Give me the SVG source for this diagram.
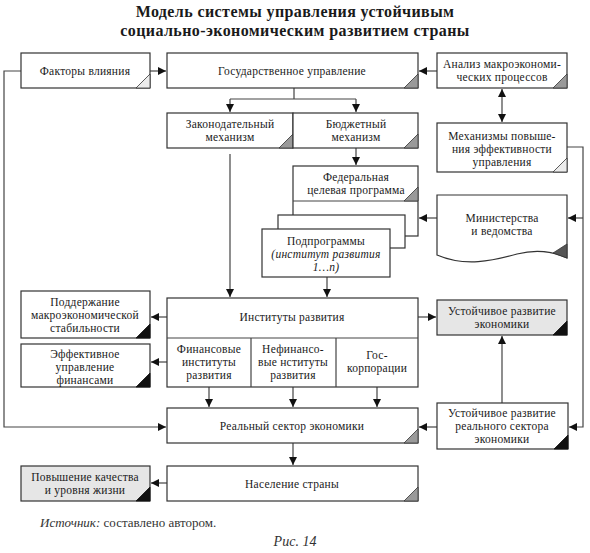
<svg xmlns="http://www.w3.org/2000/svg" width="590" height="553" viewBox="0 0 590 553">
<defs>
<style>
.bx{fill:#fff;stroke:#333;stroke-width:1.2}
.bg{fill:#e6e6e6;stroke:#333;stroke-width:1.2}
.ln{fill:none;stroke:#444;stroke-width:1.2}
.t{font-family:"Liberation Serif","DejaVu Serif",serif;font-size:11.5px;letter-spacing:0.25px;fill:#1a1a1a;text-anchor:middle}
.ti{font-style:italic}
.h{font-family:"Liberation Serif","DejaVu Serif",serif;font-size:16px;font-weight:bold;fill:#1a1a1a;text-anchor:middle;letter-spacing:0.4px}
.tl{fill:#ececec;stroke:#333;stroke-width:0.8}
.tg{fill:#9a9a9a;stroke:#333;stroke-width:0.8}
.td{fill:#555;stroke:#333;stroke-width:0.8}
.tb{fill:#111;stroke:#111;stroke-width:0.8}
</style>
<marker id="ar" markerUnits="userSpaceOnUse" markerWidth="9" markerHeight="9" refX="8" refY="4" orient="auto-start-reverse">
<path d="M0,0 L8,4 L0,8 Z" fill="#111"/>
</marker>
</defs>
<rect width="590" height="553" fill="#fff"/>
<g id="title">
<text class="h" x="295" y="17">Модель системы управления устойчивым</text>
<text class="h" x="295" y="36">социально-экономическим развитием страны</text>
</g>
<g id="connectors">
<path class="ln" d="M150,71 H166" marker-end="url(#ar)"/>
<path class="ln" d="M21,71 H4 V427 H166" marker-end="url(#ar)"/>
<path class="ln" d="M437,71 H419" marker-end="url(#ar)"/>
<path class="ln" d="M294,88 V99 M230,99 H356"/>
<path class="ln" d="M230,99 V112" marker-end="url(#ar)"/>
<path class="ln" d="M356,99 V112" marker-end="url(#ar)"/>
<path class="ln" d="M502,89 V122" marker-start="url(#ar)" marker-end="url(#ar)"/>
<path class="ln" d="M230,154 V297" marker-end="url(#ar)"/>
<path class="ln" d="M356,148 V165" marker-end="url(#ar)"/>
<path class="ln" d="M567,147 H583 V427 H569" marker-end="url(#ar)"/>
<path class="ln" d="M583,218 H568" marker-end="url(#ar)"/>
<path class="ln" d="M437,218 H419" marker-end="url(#ar)"/>
<path class="ln" d="M327,277 V297" marker-end="url(#ar)"/>
<path class="ln" d="M167,317 H151" marker-end="url(#ar)"/>
<path class="ln" d="M167,362 H151" marker-end="url(#ar)"/>
<path class="ln" d="M418,317 H436" marker-end="url(#ar)"/>
<path class="ln" d="M209,387 V407" marker-end="url(#ar)"/>
<path class="ln" d="M293,387 V407" marker-end="url(#ar)"/>
<path class="ln" d="M377,387 V407" marker-end="url(#ar)"/>
<path class="ln" d="M437,427 H419" marker-end="url(#ar)"/>
<path class="ln" d="M502,403 V336" marker-end="url(#ar)"/>
<path class="ln" d="M293,443 V465" marker-end="url(#ar)"/>
<path class="ln" d="M167,483 H151" marker-end="url(#ar)"/>
</g>
<g id="factors">
<rect class="bx" x="21" y="53" width="129" height="35"/>
<polygon class="tl" points="150,74 150,88 136,88"/>
<text class="t" x="85" y="75">Факторы влияния</text>
</g>
<g id="gos">
<rect class="bx" x="167" y="53" width="251" height="35"/>
<polygon class="tg" points="418,74 418,88 404,88"/>
<text class="t" x="292" y="75">Государственное управление</text>
</g>
<g id="analysis">
<rect class="bx" x="437" y="53" width="130" height="35"/>
<polygon class="tg" points="567,74 567,88 553,88"/>
<text class="t" x="502" y="68">Анализ макроэкономи-</text>
<text class="t" x="502" y="81">ческих процессов</text>
</g>
<g id="zakon">
<rect class="bx" x="167" y="113" width="126" height="35"/>
<polygon class="tg" points="293,134 293,148 279,148"/>
<text class="t" x="230" y="127.5">Законодательный</text>
<text class="t" x="230" y="141">механизм</text>
</g>
<g id="budget">
<rect class="bx" x="293" y="113" width="125" height="35"/>
<polygon class="tg" points="418,134 418,148 404,148"/>
<text class="t" x="356" y="127.5">Бюджетный</text>
<text class="t" x="356" y="141">механизм</text>
</g>
<g id="mech">
<rect class="bx" x="437" y="123" width="130" height="49"/>
<polygon class="tl" points="567,158 567,172 553,172"/>
<text class="t" x="502" y="140">Механизмы повыше-</text>
<text class="t" x="502" y="153">ния эффективности</text>
<text class="t" x="502" y="166">управления</text>
</g>
<g id="federal">
<rect class="bx" x="293" y="166" width="125" height="70"/>
<line class="ln" x1="293" y1="201" x2="418" y2="201"/>
<polygon class="tg" points="418,187 418,201 404,201"/>
<text class="t" x="356" y="180.5">Федеральная</text>
<text class="t" x="356" y="194">целевая программа</text>
<rect class="bx" x="278" y="215" width="127" height="33"/>
</g>
<g id="subprograms">
<rect class="bx" x="262" y="229" width="128" height="48"/>
<text class="t" x="326" y="245">Подпрограммы</text>
<text class="t ti" x="326" y="258">(институт развития</text>
<text class="t ti" x="326" y="271">1…n)</text>
</g>
<g id="ministries">
<path class="bx" d="M437,195 H567 V258 C552,251 537,249 517,254 C492,261 465,267 437,255 Z"/>
<polygon class="td" points="567,244 567,258 553,253"/>
<text class="t" x="502" y="222">Министерства</text>
<text class="t" x="502" y="235">и  ведомства</text>
</g>
<g id="podderzhanie">
<rect class="bx" x="21" y="291" width="129" height="47"/>
<polygon class="tb" points="150,324 150,338 136,338"/>
<text class="t" x="85" y="306">Поддержание</text>
<text class="t" x="85" y="319">макроэкономической</text>
<text class="t" x="85" y="332">стабильности</text>
</g>
<g id="effektivnoe">
<rect class="bx" x="21" y="344" width="129" height="43"/>
<polygon class="tb" points="150,373 150,387 136,387"/>
<text class="t" x="85" y="357.5">Эффективное</text>
<text class="t" x="85" y="370.5">управление</text>
<text class="t" x="85" y="383.5">финансами</text>
</g>
<g id="institutes">
<rect class="bx" x="167" y="298" width="251" height="89"/>
<path class="ln" d="M167,338 H418 M251,338 V387 M336,338 V387"/>
<text class="t" x="292" y="321">Институты развития</text>
<text class="t" x="209" y="353">Финансовые</text>
<text class="t" x="209" y="366">институты</text>
<text class="t" x="209" y="379">развития</text>
<text class="t" x="293" y="353">Нефинансо-</text>
<text class="t" x="293" y="366">вые нституты</text>
<text class="t" x="293" y="379">развития</text>
<text class="t" x="377" y="359">Гос-</text>
<text class="t" x="377" y="372">корпорации</text>
</g>
<g id="ustoich-ekon">
<rect class="bg" x="437" y="300" width="130" height="35"/>
<polygon class="tb" points="567,321 567,335 553,335"/>
<text class="t" x="502" y="315">Устойчивое развитие</text>
<text class="t" x="502" y="328">экономики</text>
</g>
<g id="realny">
<rect class="bx" x="167" y="408" width="251" height="35"/>
<polygon class="tg" points="418,429 418,443 404,443"/>
<text class="t" x="292" y="430">Реальный сектор экономики</text>
</g>
<g id="ustoich-real">
<rect class="bx" x="437" y="403" width="131" height="46"/>
<polygon class="tb" points="568,435 568,449 554,449"/>
<text class="t" x="502" y="417">Устойчивое развитие</text>
<text class="t" x="502" y="430">реального сектора</text>
<text class="t" x="502" y="443">экономики</text>
</g>
<g id="naselenie">
<rect class="bx" x="167" y="466" width="251" height="35"/>
<polygon class="tg" points="418,487 418,501 404,501"/>
<text class="t" x="292" y="488">Население страны</text>
</g>
<g id="povyshenie">
<rect class="bg" x="21" y="466" width="129" height="35"/>
<polygon class="tb" points="150,487 150,501 136,501"/>
<text class="t" x="85" y="480.5">Повышение качества</text>
<text class="t" x="85" y="494">и  уровня жизни</text>
</g>
<g id="caption">
<text x="40" y="527" style="font-family:'Liberation Serif','DejaVu Serif',serif;font-size:13px;fill:#333"><tspan font-style="italic">Источник:</tspan> составлено автором.</text>
<text x="295" y="546" style="font-family:'Liberation Serif','DejaVu Serif',serif;font-size:14px;font-style:italic;fill:#333;text-anchor:middle">Рис. 14</text>
</g>
</svg>
